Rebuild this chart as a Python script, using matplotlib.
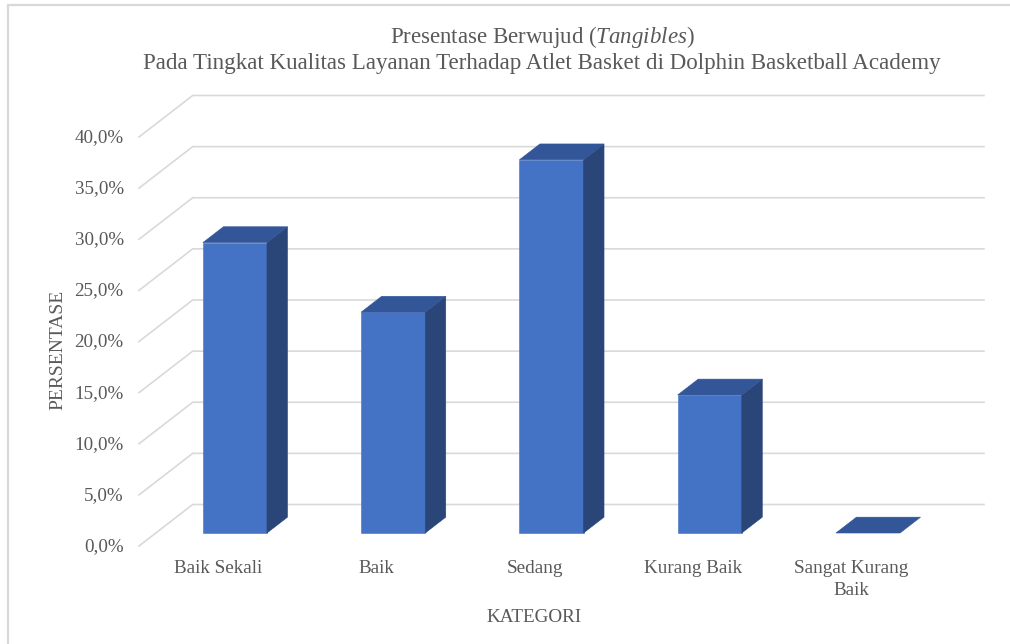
import matplotlib
matplotlib.use("Agg")
import matplotlib.pyplot as plt
from matplotlib.lines import Line2D
from matplotlib.transforms import ScaledTranslation

# Survey results
categories = ["Baik Sekali", "Baik", "Sedang", "Kurang Baik", "Sangat Kurang\nBaik"]
percentages = [28.4, 21.6, 36.5, 13.5, 0.0]
y_ticks = [0, 5, 10, 15, 20, 25, 30, 35, 40]
y_tick_labels = ["0,0%", "5,0%", "10,0%", "15,0%", "20,0%", "25,0%", "30,0%", "35,0%", "40,0%"]

W, H = 1010, 644
TEXT = "#595959"
GRID = "#d9d9d9"
FRONT = "#4472c4"
SIDE = "#2a4679"
TOP = "#325698"

plt.rcParams["font.family"] = "Liberation Serif"
plt.rcParams["mathtext.fontset"] = "custom"
plt.rcParams["mathtext.rm"] = "Liberation Serif"
plt.rcParams["mathtext.it"] = "Liberation Serif:italic"

fig = plt.figure(figsize=(W / 100, H / 100), dpi=100, facecolor="white")
left, right, top, bottom = 139, 930.3, 137, 546
ax = fig.add_axes([left / W, 1 - bottom / H, (right - left) / W, (bottom - top) / H])
ax.set_xlim(-0.5, 4.5)
ax.set_ylim(0, 40)
ax.patch.set_visible(False)
for s in ax.spines.values():
    s.set_visible(False)

# Oblique depth vector of the 3D box, in data units
DEPTH_X = 53.7 / ((right - left) / 5)
DEPTH_Y = 41.5 / ((bottom - top) / 40)
BAR_NEAR, BAR_FAR = 0.313, 0.695
BAR_W = 0.405


def proj(x, y, d):
    return x + d * DEPTH_X, y + d * DEPTH_Y


def face(corners, color, z):
    xs, ys = zip(*[proj(*c) for c in corners])
    ax.fill(xs, ys, facecolor=color, edgecolor=color, linewidth=0.4, zorder=z, clip_on=False)


# Back-wall gridlines with their slanted floor/side segments
for v in y_ticks:
    x0, y0 = proj(-0.5, v, 0)
    x1, y1 = proj(-0.5, v, 1)
    x2, y2 = proj(4.5, v, 1)
    ax.plot([x0, x1, x2], [y0, y1, y2], color=GRID, lw=1.2, zorder=1, clip_on=False,
            solid_joinstyle="miter")

# Columns
for i, v in enumerate(percentages):
    l, r = i - BAR_W / 2, i + BAR_W / 2
    if v > 0:
        face([(l, 0, BAR_NEAR), (r, 0, BAR_NEAR), (r, v, BAR_NEAR), (l, v, BAR_NEAR)], FRONT, 3)
        face([(r, 0, BAR_NEAR), (r, 0, BAR_FAR), (r, v, BAR_FAR), (r, v, BAR_NEAR)], SIDE, 3)
    face([(l, v, BAR_NEAR), (r, v, BAR_NEAR), (r, v, BAR_FAR), (l, v, BAR_FAR)], TOP, 3)

ax.set_xticks(range(len(categories)))
ax.set_xticklabels(categories, fontsize=13.8, color=TEXT, linespacing=1.4)
ax.set_yticks(y_ticks)
ax.set_yticklabels(y_tick_labels, fontsize=13.7, color=TEXT)
ax.tick_params(axis="both", length=0)
ax.tick_params(axis="y", pad=11)
ax.tick_params(axis="x", pad=10)

# Value labels sit a little above their gridline ends
nudge = ScaledTranslation(0, 1.5 / 100, fig.dpi_scale_trans)
for label in ax.get_yticklabels():
    label.set_transform(label.get_transform() + nudge)

fig.text(534 / W, 1 - 617 / H, "KATEGORI", fontsize=13.8, color=TEXT, ha="center", va="center")
fig.text(58 / W, 1 - 350 / H, "PERSENTASE", fontsize=14, color=TEXT, ha="center", va="center",
         rotation=90)

fig.text(542 / W, 1 - 37 / H, r"Presentase Berwujud ($\mathit{Tangibles}$)", fontsize=16.5,
         color=TEXT, ha="center", va="center")
fig.text(541.5 / W, 1 - 64 / H,
         "Pada Tingkat Kualitas Layanan Terhadap Atlet Basket di Dolphin Basketball Academy",
         fontsize=16.6, color=TEXT, ha="center", va="center")

# Chart-area frame along the top and left edges
fig.add_artist(Line2D([7.5 / W, 7.5 / W, 1], [0, 1 - 4.5 / H, 1 - 4.5 / H],
                      transform=fig.transFigure, color=GRID, lw=1.6,
                      solid_joinstyle="miter"))

fig.savefig("out.png", dpi=100)
